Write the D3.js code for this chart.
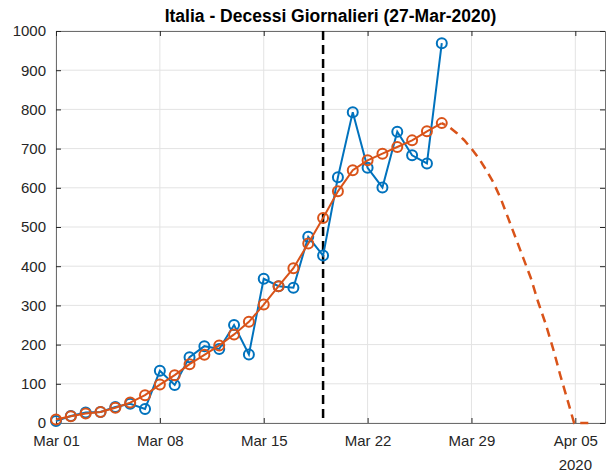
<!DOCTYPE html>
<html>
<head>
<meta charset="utf-8">
<script src="https://cdn.jsdelivr.net/npm/d3@7"></script>
<style>
  html, body { margin: 0; padding: 0; background: #fff; }
  svg { display: block; font-family: "Liberation Sans", Arial, Helvetica, sans-serif; }
</style>
</head>
<body>
<svg id="chart" width="608" height="474"></svg>
<script>
// ---- Data ----
const dates = ["2020-03-01","2020-03-02","2020-03-03","2020-03-04","2020-03-05","2020-03-06","2020-03-07",
  "2020-03-08","2020-03-09","2020-03-10","2020-03-11","2020-03-12","2020-03-13","2020-03-14",
  "2020-03-15","2020-03-16","2020-03-17","2020-03-18","2020-03-19","2020-03-20","2020-03-21",
  "2020-03-22","2020-03-23","2020-03-24","2020-03-25","2020-03-26","2020-03-27"];
const dailyDeaths = [5,18,27,28,41,49,36,133,97,168,196,189,250,175,368,349,345,475,427,627,793,651,601,743,683,662,969];
const smoothed = [9,17,24,28,39,52,71,98,122,150,174,198,226,258,302,349,395,458,523,591,645,670,687,704,721,744,765];
const projDates = ["2020-03-27T00:00","2020-03-27T12:00","2020-03-28T00:00","2020-03-28T12:00","2020-03-29T00:00",
  "2020-03-29T12:00","2020-03-30T00:00","2020-03-30T12:00","2020-03-31T00:00","2020-03-31T12:00",
  "2020-04-01T00:00","2020-04-01T12:00","2020-04-02T00:00","2020-04-02T12:00","2020-04-03T00:00",
  "2020-04-03T12:00","2020-04-04T00:00","2020-04-04T12:00","2020-04-04T22:00","2020-04-05T21:00"];
const projValues = [765,755,740,722,700,675,645,612,570,520,470,420,370,308,253,190,120,55,0,0];
const markerDate = "2020-03-19";
const xTickDates = ["2020-03-01","2020-03-08","2020-03-15","2020-03-22","2020-03-29","2020-04-05"];
const xTickLabels = ["Mar 01","Mar 08","Mar 15","Mar 22","Mar 29","Apr 05"];
const yTicks = [0,100,200,300,400,500,600,700,800,900,1000];
const titleText = "Italia - Decessi Giornalieri (27-Mar-2020)";

// ---- Setup ----
const parseDay = d3.timeParse("%Y-%m-%d");
const parseHour = d3.timeParse("%Y-%m-%dT%H:%M");
const svg = d3.select("#chart");
const L = 56, R = 605, T = 31, B = 423;
const x = d3.scaleTime().domain([parseDay("2020-03-01"), parseDay("2020-04-07")]).range([L, R]);
const y = d3.scaleLinear().domain([0, 1000]).range([B, T]);

const blue = "#0072BD", orange = "#D95319";
const axisColor = "#262626";
const tickVals = xTickDates.map(parseDay);

// Grid
const grid = svg.append("g");
grid.selectAll("line.gx").data(tickVals).enter().append("line")
  .attr("x1", d => x(d)).attr("x2", d => x(d)).attr("y1", T).attr("y2", B)
  .attr("stroke", "#e3e3e3").attr("stroke-width", 1);
grid.selectAll("line.gy").data(yTicks).enter().append("line")
  .attr("x1", L).attr("x2", R).attr("y1", d => y(d)).attr("y2", d => y(d))
  .attr("stroke", "#e3e3e3").attr("stroke-width", 1);

// Axes
const xAxis = d3.axisBottom(x).tickValues(tickVals).tickSizeInner(-5).tickSizeOuter(0)
  .tickFormat((d, i) => xTickLabels[i]).tickPadding(12);
const gx = svg.append("g").attr("transform", `translate(0,${B})`).call(xAxis);
const yAxis = d3.axisLeft(y).tickValues(yTicks).tickSizeInner(-5).tickSizeOuter(0)
  .tickFormat(d3.format("d")).tickPadding(10);
const gy = svg.append("g").attr("transform", `translate(${L},0)`).call(yAxis);
const xTop = d3.axisTop(x).tickValues(tickVals).tickSizeInner(-5).tickSizeOuter(0).tickFormat("");
const gxt = svg.append("g").attr("transform", `translate(0,${T})`).call(xTop);
const yRight = d3.axisRight(y).tickValues(yTicks).tickSizeInner(-5).tickSizeOuter(0).tickFormat("");
const gyr = svg.append("g").attr("transform", `translate(${R},0)`).call(yRight);
[gx, gy, gxt, gyr].forEach(g => {
  g.select(".domain").attr("stroke", axisColor).attr("stroke-opacity", 0.65).attr("stroke-width", 1);
  g.selectAll(".tick line").attr("stroke", axisColor);
  g.selectAll(".tick text").attr("fill", axisColor).attr("font-size", 15)
    .attr("font-family", "'Liberation Sans', Arial, sans-serif");
});
// year label under last tick
svg.append("text").attr("x", x(parseDay("2020-04-05"))).attr("y", 470)
  .attr("text-anchor", "middle").attr("font-size", 15).attr("fill", axisColor).text("2020");

// Vertical dashed line
svg.append("line")
  .attr("x1", x(parseDay(markerDate))).attr("x2", x(parseDay(markerDate)))
  .attr("y1", T).attr("y2", B)
  .attr("stroke", "#000").attr("stroke-width", 2.5).attr("stroke-dasharray", "9,5");

// Series
const actual = dates.map((d, i) => ({ d: parseDay(d), v: dailyDeaths[i] }));
const fit = dates.map((d, i) => ({ d: parseDay(d), v: smoothed[i] }));
const proj = projDates.map((d, i) => ({ d: parseHour(d), v: projValues[i] }));
const line = d3.line().x(p => x(p.d)).y(p => y(p.v));

svg.append("path").datum(actual).attr("d", line)
  .attr("fill", "none").attr("stroke", blue).attr("stroke-width", 2);
svg.append("g").selectAll("circle").data(actual).enter().append("circle")
  .attr("cx", p => x(p.d)).attr("cy", p => y(p.v)).attr("r", 5)
  .attr("fill", "none").attr("stroke", blue).attr("stroke-width", 2);

// Orange projection (dashed)
svg.append("path").datum(proj).attr("d", line)
  .attr("fill", "none").attr("stroke", orange).attr("stroke-width", 2.5)
  .attr("stroke-dasharray", "9,6").attr("stroke-dashoffset", -10);

// Orange fit
svg.append("path").datum(fit).attr("d", line)
  .attr("fill", "none").attr("stroke", orange).attr("stroke-width", 2);
svg.append("g").selectAll("circle").data(fit).enter().append("circle")
  .attr("cx", p => x(p.d)).attr("cy", p => y(p.v)).attr("r", 5)
  .attr("fill", "none").attr("stroke", orange).attr("stroke-width", 2);

// Title
svg.append("text").attr("x", (L + R) / 2).attr("y", 22).attr("text-anchor", "middle")
  .attr("font-size", 17.5).attr("font-weight", "bold").attr("fill", "#000").text(titleText);
</script>
</body>
</html>
